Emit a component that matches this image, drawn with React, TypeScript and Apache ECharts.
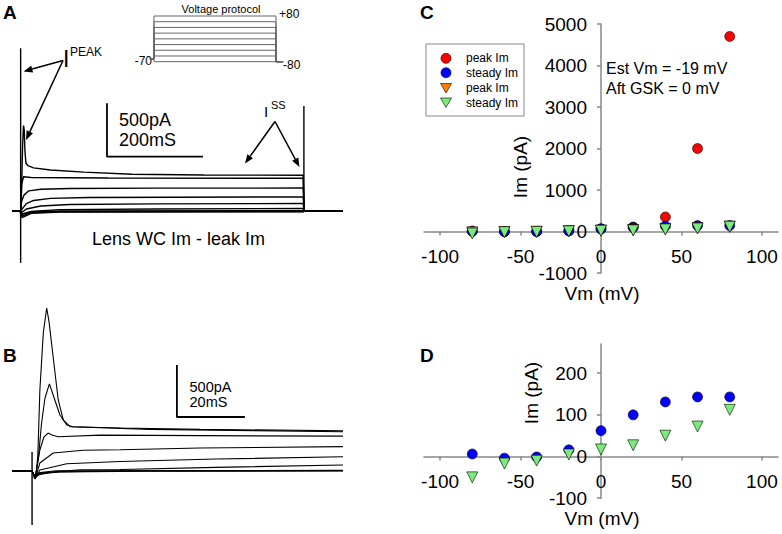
import React, { useEffect, useRef } from "react";
import * as echarts from "echarts";

const FONT = "Liberation Sans, Arial, Helvetica, sans-serif";

// ---------- Panels C and D: I-V data ----------
const vm = [-80, -60, -40, -20, 0, 20, 40, 60, 80];
const peakImCircle = [8, -2, -1, 18, 65, 105, 350, 2000, 4700];
const steadyImCircle = [6, -4, -1, 16, 62, 100, 131, 143, 143];
const peakImTriangle = [-20, -12, -6, 10, 25, 35, 58, 80, 120];
const steadyImTriangle = [-50, -17, -10, 5, 17, 27, 50, 72, 112];
const xTicks = [-100, -50, 0, 50, 100];
const cYTicks = [-1000, 0, 1000, 2000, 3000, 4000, 5000];
const dYTicks = [-100, 0, 100, 200];

// ---------- Panel A: current traces (time ms, current pA) ----------
const aTrace1 = [[0, 0], [17, 0], [18, -30], [20, 200], [22, 600], [24, 800], [25.5, 760], [27, 560], [29, 450], [33, 425], [45, 405], [80, 385], [150, 365], [250, 345], [400, 338], [607, 336], [609, 0], [690, 0]];
const aTrace2 = [[0, 0], [18, 0], [20, 250], [24, 322], [40, 315], [200, 310], [607, 307], [609, 0], [690, 0]];
const aTrace3 = [[0, 0], [18, 0], [20, 90], [25, 150], [35, 190], [60, 205], [120, 212], [300, 215], [607, 216], [609, 0], [690, 0]];
const aTrace4 = [[0, 0], [18, 0], [21, 20], [30, 70], [45, 100], [80, 120], [160, 128], [607, 134], [609, 0], [690, 0]];
const aTrace5 = [[0, 0], [18, 0], [21, -10], [30, 20], [60, 48], [120, 62], [300, 68], [607, 72], [609, 0], [690, 0]];
const aTrace6 = [[0, 0], [18, 0], [21, -25], [40, -2], [100, 14], [300, 20], [607, 25], [609, 0], [690, 0]];
const aTrace7 = [[0, 0], [18, 0], [21, -45], [40, -15], [100, -5], [607, -3], [609, 0], [690, 0]];
const aTrace8 = [[0, 0], [18, 0], [21, -60], [40, -20], [100, -8], [607, -6], [609, 0], [690, 0]];
const aTrace9 = [[0, 0], [18, 0], [21, -30], [40, -6], [100, 2], [607, 4], [609, 0], [690, 0]];
const aArtifactOn = [[18, 1523], [18, -484]];
const aArtifactOff = [[608.5, 983], [608.5, 0]];
const aScaleBar = [[198, 1009], [198, 509], [398, 509]];

// ---------- Panel B: expanded current traces (time ms, current pA) ----------
const bTrace1 = [[0, 0], [5.9, 0], [6.5, -48], [7.1, -29], [7.6, 154], [8.2, 779], [9.2, 1327], [10.2, 1567], [10.9, 1433], [12.1, 1096], [13.6, 683], [15.1, 490], [17.1, 426], [31.8, 413], [55.3, 400], [97.35, 387]];
const bTrace2 = [[0, 0], [5.9, 0], [6.8, -58], [7.7, 106], [8.7, 462], [9.7, 702], [11, 837], [12.6, 683], [14.1, 538], [16.1, 442], [18, 426], [40.6, 400], [97.35, 378]];
const bTrace3 = [[0, 0], [5.9, 0], [6.8, -67], [8.2, 202], [9.4, 327], [10.6, 365], [11.8, 346], [13.5, 330], [25.9, 345], [55.3, 340], [97.35, 335]];
const bTrace4 = [[0, 0], [5.9, 0], [6.8, -77], [8.2, 77], [12.1, 173], [20.9, 200], [31.8, 205], [55.3, 221], [97.35, 234]];
const bTrace5 = [[0, 0], [5.9, 0], [6.8, -70], [8.2, 10], [16.1, 70], [31.8, 92], [60, 115], [97.35, 137]];
const bTrace6 = [[0, 0], [5.9, 0], [6.8, -60], [8.2, -20], [20, 12], [31.8, 15], [60, 35], [97.35, 58]];
const bTrace7 = [[0, 0], [5.9, 0], [6.6, -70], [8, -35], [12, -10], [30, 0], [97.35, 3]];
const bTrace8 = [[0, 0], [5.9, 0], [6.7, -55], [8.5, -25], [14, -8], [40, -2], [97.35, 0]];
const bTrace9 = [[0, 0], [5.9, 0], [6.5, -40], [8.3, -15], [13, 2], [50, 4], [97.35, 6]];
const bArtifact = [[5.9, 183], [5.9, -519]];
const bScaleBar = [[48.5, 1019], [48.5, 519], [68.5, 519]];

// ---------- Voltage protocol inset (time ms, mV) ----------
const protocolLevels = [-80, -60, -40, -20, 0, 20, 40, 60, 80];
const holdingMv = -70;
const tailMv = -80;
const stepStart = 0;
const stepEnd = 600;

function arrow(x1: number, y1: number, x2: number, y2: number) {
  const ang = Math.atan2(y2 - y1, x2 - x1);
  const L = 9;
  const Wd = 3.5;
  const bx = x2 - L * Math.cos(ang);
  const by = y2 - L * Math.sin(ang);
  const px = -Math.sin(ang) * Wd;
  const py = Math.cos(ang) * Wd;
  return [
    { type: "line", shape: { x1, y1, x2: bx, y2: by }, style: { stroke: "#000", lineWidth: 1.5 } },
    { type: "polygon", shape: { points: [[x2, y2], [bx + px, by + py], [bx - px, by - py]] }, style: { fill: "#000" } },
  ];
}

function txt(text: string, x: number, y: number, fontSize: number, align = "left", extra: any = {}) {
  return {
    type: "text",
    x,
    y,
    ...extra,
    style: { text, fontSize, fontFamily: FONT, fill: "#000", align, verticalAlign: "middle", fontWeight: extra.bold ? "bold" : "normal" },
  };
}

export default function App() {
  const ref = useRef<HTMLDivElement>(null);
  useEffect(() => {
    if (!ref.current) return;
    const chart = echarts.init(ref.current, undefined, { renderer: "svg" });

    const line = (data: number[][], gi: number, width: number, color = "#000") => ({
      type: "line",
      xAxisIndex: gi,
      yAxisIndex: gi,
      data,
      symbol: "none",
      silent: true,
      lineStyle: { color, width },
      clip: false,
    });

    const axisColor = "#888";
    const fmt = (v: number) => String(v);
    // x axis is lifted to the y = 0 line with an offset (grid height * max/(max-min))
    const ivX = (gi: number, offset: number) => ({
      type: "value",
      gridIndex: gi,
      min: -110,
      max: 110,
      position: "bottom",
      offset,
      axisLine: { onZero: false, lineStyle: { color: axisColor, width: 1.5 } },
      axisTick: { show: true, customValues: xTicks, length: 4, lineStyle: { color: axisColor, width: 1.5 } },
      axisLabel: { customValues: xTicks, fontSize: 19, color: "#000", fontFamily: FONT, margin: 15, formatter: fmt },
      splitLine: { show: false },
    });
    const ivY = (gi: number, min: number, max: number, ticks: number[]) => ({
      type: "value",
      gridIndex: gi,
      min,
      max,
      position: "left",
      offset: -177,
      axisLine: { show: true, onZero: false, lineStyle: { color: axisColor, width: 1.5 } },
      axisTick: { show: true, customValues: ticks, length: 4, lineStyle: { color: axisColor, width: 1.5 } },
      axisLabel: { customValues: ticks, fontSize: 19, color: "#000", fontFamily: FONT, margin: 14, formatter: fmt },
      splitLine: { show: false },
    });
    const hidden = (gi: number, min: number, max: number) => ({ type: "value", gridIndex: gi, min, max, show: false, splitLine: { show: false } });

    const scatter = (name: string, gi: number, ys: number[], symbol: string, color: string) => ({
      type: "scatter",
      name,
      xAxisIndex: gi,
      yAxisIndex: gi,
      data: vm.map((v, i) => [v, ys[i]]),
      symbol,
      symbolSize: symbol === "circle" ? 10 : 11,
      symbolRotate: symbol === "triangle" ? 180 : 0,
      itemStyle: { color, borderColor: "#000", borderWidth: 0.6, opacity: 1 },
      silent: true,
    });

    const RED = "#ff0000";
    const BLUE = "#0000ff";
    const ORANGE = "#ff8000";
    const GREEN = "#7aec7a";

    const protocolSeries = protocolLevels.map((v) =>
      line([[-20, holdingMv], [stepStart, holdingMv], [stepStart, v], [stepEnd, v], [stepEnd, tailMv], [635, tailMv]], 2, 1, "#666")
    );

    const aTraces = [aTrace1, aTrace2, aTrace3, aTrace4, aTrace5, aTrace6, aTrace7, aTrace8, aTrace9];
    const bTraces = [bTrace1, bTrace2, bTrace3, bTrace4, bTrace5, bTrace6, bTrace7, bTrace8, bTrace9];

    const legendTri = (cx: number, cy: number, fill: string) => ({
      type: "polygon",
      shape: { points: [[cx - 5.5, cy - 4.5], [cx + 5.5, cy - 4.5], [cx, cy + 5]] },
      style: { fill, stroke: "#000", lineWidth: 0.6 },
    });

    const option: any = {
      animation: false,
      textStyle: { fontFamily: FONT },
      grid: [
        { left: 12, top: 40, width: 331, height: 230, outerBoundsMode: "none" },
        { left: 12, top: 290, width: 331, height: 240, outerBoundsMode: "none" },
        { left: 149.9, top: 16, width: 133.2, height: 45.7, outerBoundsMode: "none" },
        { left: 424, top: 24, width: 354, height: 249, outerBoundsMode: "none" },
        { left: 424, top: 344, width: 354, height: 154.2, outerBoundsMode: "none" },
      ],
      xAxis: [hidden(0, 0, 690), hidden(1, 0, 97.35), hidden(2, -20, 635), ivX(3, -249 * 1000 / 6000), ivX(4, -154.2 * 100 / 370)],
      yAxis: [hidden(0, -550, 1600), hidden(1, -567, 1740), hidden(2, -80, 80), ivY(3, -1000, 5000, cYTicks), ivY(4, -100, 270, dYTicks)],
      series: [
        ...aTraces.map((d) => line(d, 0, 1.4)),
        line(aArtifactOn, 0, 1.4),
        line(aArtifactOff, 0, 1.4),
        line(aScaleBar, 0, 1.8),
        ...bTraces.map((d) => line(d, 1, 1.1)),
        line(bArtifact, 1, 1.4),
        line(bScaleBar, 1, 1.8),
        ...protocolSeries,
        scatter("peak Im", 3, peakImCircle, "circle", RED),
        scatter("steady Im", 3, steadyImCircle, "circle", BLUE),
        scatter("peak Im ", 3, peakImTriangle, "triangle", ORANGE),
        scatter("steady Im ", 3, steadyImTriangle, "triangle", GREEN),
        scatter("steady Im", 4, steadyImCircle, "circle", BLUE),
        scatter("steady Im ", 4, steadyImTriangle, "triangle", GREEN),
      ],
      graphic: [
        // panel letters
        txt("A", 3, 12, 19, "left", { bold: true }),
        txt("B", 3, 355, 19, "left", { bold: true }),
        txt("C", 420, 12, 19, "left", { bold: true }),
        txt("D", 420, 355, 19, "left", { bold: true }),
        // panel A annotations
        txt("Voltage protocol", 221, 8.5, 11, "center"),
        txt("+80", 279, 14, 12),
        txt("-70", 152, 60.5, 12, "right"),
        txt("-80", 283, 64.5, 12),
        txt("500pA", 119, 120, 18),
        txt("200mS", 119, 140, 18),
        txt("Lens WC Im - leak Im", 178.5, 239, 18, "center"),
        txt("I", 63, 58.5, 23),
        txt("PEAK", 70, 51.5, 12),
        ...arrow(63, 60.5, 23.5, 71.5),
        ...arrow(63, 60.5, 26, 140),
        txt("I", 264, 111.5, 15),
        txt("SS", 271, 104.5, 11),
        ...arrow(275, 121.5, 245, 163.5),
        ...arrow(275, 121.5, 299.5, 167),
        // panel B annotations
        txt("500pA", 189.5, 387, 14.5),
        txt("20mS", 189.5, 402, 14.5),
        // panel C annotations
        txt("Est Vm = -19 mV", 606, 68, 16),
        txt("Aft GSK = 0 mV", 606, 88.5, 16),
        txt("Im (pA)", 520, 167, 19, "center", { rotation: Math.PI / 2 }),
        txt("Vm (mV)", 602, 293, 19, "center"),
        // legend
        { type: "rect", shape: { x: 426, y: 44, width: 98, height: 72 }, style: { fill: "#fff", stroke: "#888", lineWidth: 1 } },
        { type: "circle", shape: { cx: 446, cy: 58.3, r: 5 }, style: { fill: RED, stroke: "#000", lineWidth: 0.6 } },
        { type: "circle", shape: { cx: 446, cy: 72.7, r: 5 }, style: { fill: BLUE, stroke: "#000", lineWidth: 0.6 } },
        legendTri(446, 88, ORANGE),
        legendTri(446, 102.5, GREEN),
        txt("peak Im", 466, 58.3, 12),
        txt("steady Im", 466, 72.7, 12),
        txt("peak Im", 466, 88.3, 12),
        txt("steady Im", 466, 102.7, 12),
        // panel D annotations
        txt("Im (pA)", 531.5, 393, 19, "center", { rotation: Math.PI / 2 }),
        txt("Vm (mV)", 602, 518, 19, "center"),
      ],
    };
    chart.setOption(option);
    return () => chart.dispose();
  }, []);
  return <div ref={ref} style={{ position: "absolute", left: 0, top: 0, width: 782, height: 534, background: "#fff" }} />;
}
